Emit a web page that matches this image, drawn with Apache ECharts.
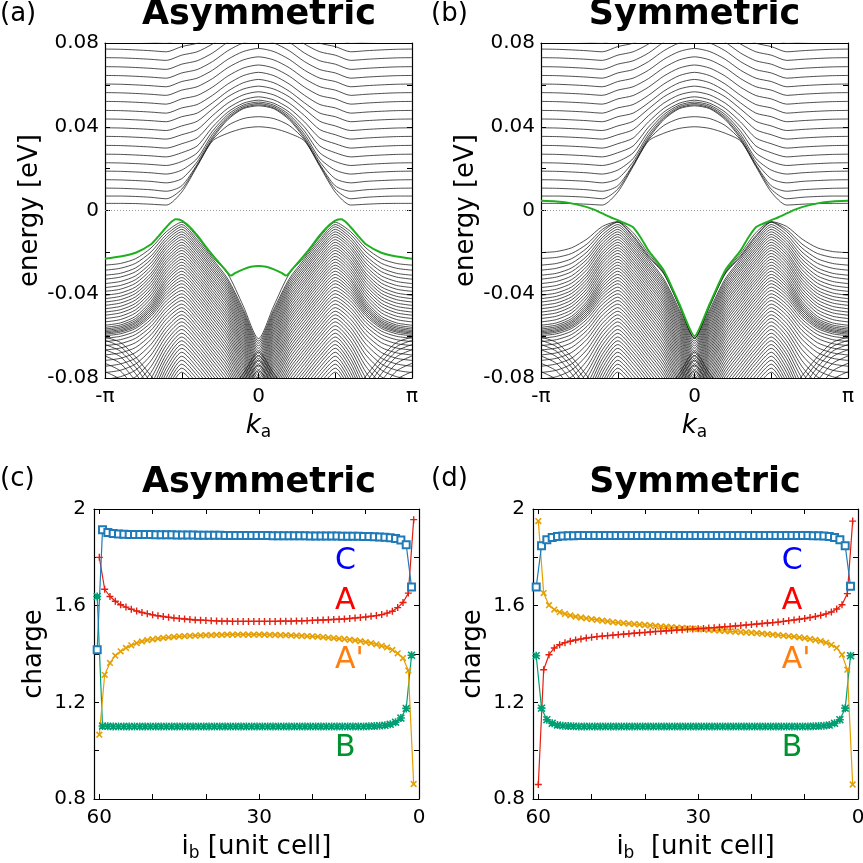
<!DOCTYPE html>
<html><head><meta charset="utf-8">
<script src="https://cdn.jsdelivr.net/npm/echarts@6/dist/echarts.min.js"></script>
<style>html,body{margin:0;padding:0;background:#fff}#chart{width:863px;height:863px}</style>
</head><body><div id="chart"></div>
<script>
// ---------- band-structure data (energies in meV, k in units of pi, k >= 0; bands are symmetric in k) ----------
const BAND_K = [0, 0.1, 0.2, 0.3, 0.4, 0.5, 0.6, 0.7, 0.8, 0.9, 1.0];

// conduction sub-bands (shared by panels a and b)
const condBands = [
  [40.0, 39.2, 36.9, 33.2, 21.0, 8.8, 2.6, 3.0, 3.3, 3.4, 3.4],
  [44.8, 43.9, 40.6, 33.7, 21.5, 10.2, 5.6, 6.3, 6.7, 6.9, 6.9],
  [50.0, 48.6, 43.4, 34.3, 22.0, 11.8, 9.2, 9.9, 10.3, 10.6, 10.7],
  [50.5, 49.0, 44.0, 35.2, 23.2, 15.2, 13.2, 13.9, 14.3, 14.6, 14.7],
  [51.1, 49.6, 44.8, 36.4, 24.8, 19.3, 17.4, 18.0, 18.4, 18.7, 18.8],
  [51.8, 50.3, 45.8, 37.9, 27.5, 23.4, 21.5, 22.0, 22.4, 22.7, 22.8],
  [52.7, 51.2, 47.0, 39.8, 30.8, 27.6, 25.6, 26.1, 26.5, 26.8, 26.9],
  [54.3, 52.8, 48.8, 42.3, 34.6, 31.9, 29.8, 30.3, 30.7, 31.0, 31.1],
  [56.7, 55.2, 51.3, 45.3, 38.6, 36.2, 34.1, 34.6, 35.0, 35.3, 35.4],
  [59.4, 58.0, 54.3, 48.5, 42.6, 40.4, 38.2, 38.7, 39.1, 39.4, 39.5],
  [62.6, 61.0, 57.0, 51.4, 46.5, 44.8, 42.4, 42.9, 43.3, 43.6, 43.7],
  [66.0, 64.4, 60.4, 55.0, 50.6, 49.0, 46.5, 47.0, 47.4, 47.7, 47.8],
  [69.5, 68.0, 64.2, 58.9, 54.9, 53.3, 50.8, 51.3, 51.7, 52.0, 52.1],
  [73.4, 71.9, 68.2, 63.0, 59.1, 57.5, 55.0, 55.5, 55.9, 56.2, 56.3],
  [77.4, 75.9, 72.2, 67.0, 63.2, 61.6, 59.1, 59.6, 60.0, 60.3, 60.4],
  [81.5, 80.0, 76.3, 71.1, 67.3, 65.7, 63.2, 63.7, 64.1, 64.4, 64.5],
  [85.5, 84.0, 80.4, 75.2, 71.5, 69.9, 67.4, 67.9, 68.3, 68.6, 68.7],
  [89.6, 88.1, 84.6, 79.5, 75.8, 74.2, 71.7, 72.2, 72.6, 72.9, 73.0],
  [93.7, 92.2, 88.7, 83.6, 79.9, 78.3, 75.8, 76.3, 76.7, 77.0, 77.1],
  [97.8, 96.3, 92.8, 87.7, 84.0, 82.4, 79.9, 80.4, 80.8, 81.1, 81.2]
];

// valence sub-bands rising to a maximum near k = pi/2 (shared by panels a and b)
const valBandsUpper = [
  [-61.2, -45.5, -30.3, -22.2, -12.7, -5.6, -10.1, -17.9, -23.0, -25.3, -26.1],
  [-62.3, -47.2, -32.7, -23.1, -13.9, -6.7, -11.5, -19.8, -25.2, -27.6, -28.5],
  [-63.4, -48.3, -33.8, -24.2, -15.0, -7.8, -12.9, -21.7, -27.4, -30.0, -30.9],
  [-64.6, -49.5, -35.0, -25.4, -16.2, -9.0, -14.2, -23.3, -29.2, -31.8, -32.8],
  [-65.8, -50.7, -36.2, -26.6, -17.4, -10.2, -15.6, -25.0, -31.2, -33.9, -34.9],
  [-67.0, -51.9, -37.4, -27.8, -18.6, -11.4, -17.0, -26.6, -33.0, -35.8, -36.8],
  [-68.2, -53.1, -38.6, -29.0, -19.8, -12.6, -18.3, -28.2, -34.7, -37.6, -38.6],
  [-69.5, -54.4, -39.9, -30.3, -21.1, -13.9, -19.8, -29.9, -36.5, -39.4, -40.5],
  [-70.8, -55.7, -41.2, -31.6, -22.4, -15.2, -21.1, -31.3, -38.1, -41.0, -42.1],
  [-72.1, -57.0, -42.5, -32.9, -23.7, -16.5, -22.5, -32.8, -39.6, -42.6, -43.7],
  [-73.4, -58.3, -43.8, -34.2, -25.0, -17.8, -23.9, -34.3, -41.2, -44.2, -45.3],
  [-74.7, -59.6, -45.1, -35.5, -26.3, -19.1, -25.2, -35.8, -42.7, -45.8, -46.9],
  [-76.1, -61.0, -46.5, -36.9, -27.7, -20.5, -26.7, -37.3, -44.3, -47.4, -48.5],
  [-77.5, -62.4, -47.9, -38.3, -29.1, -21.9, -28.1, -38.8, -45.8, -48.9, -50.0],
  [-78.9, -63.8, -49.3, -39.7, -30.5, -23.3, -29.5, -40.3, -47.4, -50.5, -51.6],
  [-80.3, -65.2, -50.7, -41.1, -31.9, -24.7, -31.0, -41.8, -48.9, -52.1, -53.2],
  [-81.7, -66.6, -52.1, -42.5, -33.3, -26.1, -32.4, -43.3, -50.5, -53.7, -54.8],
  [-83.1, -68.0, -53.5, -43.9, -34.7, -27.5, -33.7, -44.5, -51.6, -54.7, -55.8],
  [-84.6, -69.5, -55.0, -45.4, -36.2, -29.0, -35.1, -45.6, -52.5, -55.5, -56.6],
  [-86.1, -71.0, -56.5, -46.9, -37.7, -30.5, -36.4, -46.6, -53.3, -56.2, -57.3],
  [-87.6, -72.5, -58.0, -48.4, -39.2, -32.0, -37.7, -47.5, -54.0, -56.9, -57.9],
  [-89.1, -74.0, -59.5, -49.9, -40.7, -33.5, -39.0, -48.5, -54.8, -57.5, -58.5],
  [-90.6, -75.5, -61.0, -51.4, -42.2, -35.0, -40.3, -49.5, -55.5, -58.1, -59.1],
  [-92.2, -77.1, -62.6, -53.0, -43.8, -36.6, -41.7, -50.5, -56.3, -58.9, -59.8],
  [-93.8, -78.7, -64.2, -54.6, -45.4, -38.2, -43.2, -51.9, -57.6, -60.1, -61.0],
  [-95.4, -80.3, -65.8, -56.2, -47.0, -39.8, -44.8, -53.5, -59.2, -61.7, -62.6],
  [-97.0, -81.9, -67.4, -57.8, -48.6, -41.4, -46.5, -55.3, -61.0, -63.6, -64.5],
  [-98.6, -83.5, -69.0, -59.4, -50.2, -43.0, -48.2, -57.2, -63.1, -65.7, -66.6],
  [-100.3, -85.2, -70.7, -61.1, -51.9, -44.7, -50.0, -59.3, -65.4, -68.0, -69.0],
  [-102.0, -86.9, -72.4, -62.8, -53.6, -46.4, -51.9, -61.5, -67.8, -70.6, -71.6],
  [-103.7, -88.6, -74.1, -64.5, -55.3, -48.1, -53.9, -63.9, -70.5, -73.3, -74.4],
  [-105.4, -90.3, -75.8, -66.2, -57.0, -49.8, -55.9, -66.4, -73.3, -76.3, -77.4],
  [-107.1, -92.0, -77.5, -67.9, -58.7, -51.5, -57.9, -69.0, -76.2, -79.4, -80.6],
  [-108.8, -93.7, -79.2, -69.6, -60.4, -53.2, -60.0, -71.7, -79.4, -82.8, -84.0],
  [-110.6, -95.5, -81.0, -71.4, -62.2, -55.0, -62.2, -74.5, -82.6, -86.2, -87.5],
  [-112.4, -97.3, -82.8, -73.2, -64.0, -56.8, -64.3, -77.3, -85.9, -89.6, -91.0],
  [-114.2, -99.1, -84.6, -75.0, -65.8, -58.6, -66.5, -80.1, -89.1, -93.1, -94.5],
  [-116.0, -100.9, -86.4, -76.8, -67.6, -60.4, -68.7, -83.0, -92.4, -96.5, -98.0],
  [-117.8, -102.7, -88.2, -78.6, -69.4, -62.2, -70.8, -85.8, -95.6, -99.9, -101.5],
  [-119.6, -104.5, -90.0, -80.4, -71.2, -64.0, -73.0, -88.6, -98.9, -103.4, -105.0],
  [-121.4, -106.3, -91.8, -82.2, -73.0, -65.8, -75.2, -91.4, -102.1, -106.8, -108.5],
  [-123.3, -108.2, -93.7, -84.1, -74.9, -67.7, -77.4, -94.3, -105.4, -110.2, -112.0],
  [-125.2, -110.1, -95.6, -86.0, -76.8, -69.6, -79.7, -97.1, -108.6, -113.7, -115.5],
  [-127.1, -112.0, -97.5, -87.9, -78.7, -71.5, -82.0, -100.0, -111.9, -117.1, -119.0],
  [-129.0, -113.9, -99.4, -89.8, -80.6, -73.4, -84.2, -102.9, -115.1, -120.5, -122.5],
  [-130.9, -115.8, -101.3, -91.7, -82.5, -75.3, -86.5, -105.7, -118.4, -124.0, -126.0],
  [-132.8, -117.7, -103.2, -93.6, -84.4, -77.2, -88.7, -108.6, -121.7, -127.4, -129.5]
];

// deeper valence sub-bands with a local maximum at k = 0
const valBandsLower = [
  [-67.5, -78.0, -88.0, -96.0, -100.0, -100.0, -88.0, -79.0, -70.0, -63.0, -60.5],
  [-69.3, -79.8, -89.5, -97.5, -102.0, -102.0, -91.0, -82.0, -72.5, -65.0, -62.0],
  [-71.4, -81.9, -91.5, -99.5, -104.0, -104.0, -94.0, -85.0, -75.0, -67.2, -64.0],
  [-73.8, -84.3, -94.0, -102.0, -106.0, -106.0, -97.0, -88.0, -78.0, -69.8, -66.5],
  [-76.5, -87.0, -96.5, -104.0, -108.0, -108.0, -100.0, -91.5, -81.5, -73.0, -69.5],
  [-79.4, -90.0, -99.5, -107.0, -111.0, -111.0, -103.0, -95.0, -85.5, -76.6, -73.0],
  [-82.5, -93.0, -102.5, -110.0, -114.0, -114.0, -106.0, -99.0, -89.5, -80.7, -77.0],
  [-85.6, -96.0, -105.5, -113.0, -117.0, -117.0, -110.0, -103.0, -93.5, -84.6, -81.0]
];

// two extra top valence sub-bands seen only in the symmetric case (b)
const valBandsExtraSym = [
  [-60.9, -45.2, -29.6, -20.6, -10.6, -5.3, -7.6, -13.6, -17.8, -19.6, -20.1],
  [-61.1, -45.4, -30.0, -21.6, -12.0, -5.5, -9.0, -16.0, -20.5, -22.4, -22.9]
];

// highlighted (green) edge band
const greenAsymK = [0, 0.05, 0.1, 0.15, 0.18, 0.22, 0.25, 0.3, 0.35, 0.4, 0.45, 0.5, 0.54, 0.58, 0.62, 0.66, 0.7, 0.8, 0.9, 1.0];
const greenAsymE = [-26.5, -26.9, -28.1, -29.8, -31.1, -28.0, -25.5, -21.2, -16.6, -11.8, -7.7, -4.8, -4.2, -6.3, -9.6, -13.0, -16.1, -20.2, -22.0, -23.0];
const greenSymK = [0, 0.1, 0.2, 0.3, 0.35, 0.4, 0.45, 0.5, 0.55, 0.6, 0.65, 0.7, 0.8, 0.9, 1.0];
const greenSymE = [-60.0, -44.4, -28.6, -19.2, -13.0, -8.0, -6.2, -4.6, -3.1, -1.4, 0.3, 1.6, 3.4, 4.3, 4.6];

// ---------- charge data (i_b from 60 down to 1) ----------
const ibCells = [60,59,58,57,56,55,54,53,52,51,50,49,48,47,46,45,44,43,42,41,40,39,38,37,36,35,34,33,32,31,
                 30,29,28,27,26,25,24,23,22,21,20,19,18,17,16,15,14,13,12,11,10,9,8,7,6,5,4,3,2,1];

const asymC = [1.418,1.914,1.903,1.899,1.897,1.896,1.895,1.895,1.894,1.894,
               1.894,1.893,1.893,1.893,1.893,1.892,1.892,1.892,1.892,1.891,
               1.891,1.891,1.891,1.891,1.890,1.890,1.890,1.890,1.890,1.890,
               1.890,1.890,1.890,1.889,1.889,1.889,1.889,1.889,1.889,1.889,
               1.888,1.888,1.888,1.888,1.888,1.888,1.887,1.887,1.887,1.887,
               1.886,1.886,1.885,1.884,1.883,1.881,1.878,1.872,1.852,1.677];
const asymA = [1.800,1.668,1.638,1.618,1.604,1.594,1.585,1.578,1.572,1.567,
               1.562,1.558,1.555,1.552,1.549,1.547,1.545,1.543,1.541,1.540,
               1.539,1.538,1.537,1.536,1.536,1.535,1.535,1.535,1.535,1.535,
               1.535,1.535,1.535,1.535,1.536,1.536,1.536,1.537,1.537,1.538,
               1.539,1.540,1.541,1.542,1.543,1.544,1.545,1.547,1.549,1.551,
               1.553,1.556,1.559,1.563,1.569,1.577,1.592,1.613,1.652,1.956];
const asymAp = [1.066,1.314,1.363,1.393,1.411,1.425,1.436,1.445,1.452,1.457,
                1.461,1.464,1.467,1.469,1.471,1.473,1.474,1.475,1.476,1.477,
                1.478,1.478,1.479,1.479,1.480,1.480,1.480,1.480,1.480,1.480,
                1.480,1.480,1.479,1.479,1.478,1.478,1.477,1.476,1.475,1.474,
                1.473,1.472,1.470,1.468,1.466,1.464,1.462,1.459,1.456,1.453,
                1.449,1.445,1.440,1.434,1.427,1.417,1.403,1.383,1.332,0.862];
const asymB = [1.638,1.102,1.101,1.100,1.100,1.100,1.100,1.100,1.100,1.100,
               1.100,1.100,1.100,1.100,1.100,1.100,1.100,1.100,1.100,1.100,
               1.100,1.100,1.100,1.100,1.100,1.100,1.100,1.100,1.100,1.100,
               1.100,1.100,1.100,1.100,1.100,1.100,1.100,1.100,1.100,1.100,
               1.100,1.100,1.100,1.100,1.100,1.100,1.100,1.100,1.100,1.100,
               1.100,1.101,1.102,1.103,1.105,1.109,1.118,1.135,1.175,1.395];

const symC = [1.677,1.848,1.873,1.882,1.886,1.888,1.889,1.889,1.890,1.890,
              1.890,1.890,1.890,1.890,1.890,1.890,1.890,1.890,1.890,1.890,
              1.890,1.890,1.890,1.890,1.890,1.890,1.890,1.890,1.890,1.890,
              1.890,1.890,1.890,1.890,1.890,1.890,1.890,1.890,1.890,1.890,
              1.890,1.890,1.890,1.890,1.890,1.890,1.890,1.890,1.890,1.890,
              1.890,1.890,1.889,1.889,1.888,1.886,1.882,1.873,1.848,1.680];
const symA = [0.860,1.335,1.397,1.425,1.438,1.447,1.453,1.458,1.462,1.466,
              1.469,1.472,1.474,1.476,1.478,1.480,1.482,1.484,1.486,1.488,
              1.489,1.491,1.493,1.494,1.496,1.497,1.499,1.500,1.502,1.503,
              1.505,1.506,1.508,1.509,1.511,1.513,1.514,1.516,1.518,1.520,
              1.522,1.524,1.526,1.528,1.530,1.532,1.535,1.538,1.541,1.544,
              1.547,1.551,1.555,1.560,1.566,1.574,1.586,1.604,1.650,1.950];
const symAp = [1.950,1.652,1.602,1.584,1.573,1.566,1.560,1.555,1.551,1.547,
               1.544,1.541,1.538,1.535,1.532,1.530,1.528,1.526,1.524,1.522,
               1.520,1.518,1.516,1.514,1.513,1.511,1.509,1.508,1.506,1.505,
               1.503,1.502,1.500,1.499,1.497,1.496,1.494,1.493,1.491,1.489,
               1.488,1.486,1.484,1.482,1.480,1.478,1.476,1.474,1.472,1.469,
               1.466,1.462,1.458,1.453,1.447,1.438,1.425,1.397,1.335,0.860];
const symB = [1.393,1.176,1.128,1.113,1.106,1.103,1.102,1.101,1.100,1.100,
              1.100,1.100,1.100,1.100,1.100,1.100,1.100,1.100,1.100,1.100,
              1.100,1.100,1.100,1.100,1.100,1.100,1.100,1.100,1.100,1.100,
              1.100,1.100,1.100,1.100,1.100,1.100,1.100,1.100,1.100,1.100,
              1.100,1.100,1.100,1.100,1.100,1.100,1.100,1.100,1.100,1.100,
              1.100,1.100,1.101,1.102,1.103,1.106,1.113,1.128,1.176,1.393];

// sub-lattice offsets within a unit cell along i_b
const cellOffset = {A: 0, Ap: 0, B: 0.4, C: 0.4};

// ---------- chart ----------
const FONT = 'DejaVu Sans';
const chart = echarts.init(document.getElementById('chart'), null, {renderer: 'canvas'});

function mirrored(ks, vals) {
  const out = [];
  for (let j = ks.length - 1; j > 0; j--) out.push([-ks[j], vals[j]]);
  for (let j = 0; j < ks.length; j++) out.push([ks[j], vals[j]]);
  return out;
}

const grids = [
  {left: 105, top: 43, width: 307, height: 335},
  {left: 541, top: 43, width: 307, height: 335},
  {left: 94, top: 509, width: 325, height: 290},
  {left: 533, top: 509, width: 325, height: 290}
].map(g => Object.assign({outerBoundsMode: 'none', containLabel: false}, g));

const lineBlack = {show: true, onZero: false, lineStyle: {color: '#000', width: 1.2}};
const tickIn = {show: true, inside: true, length: 5, lineStyle: {color: '#000', width: 1}};
const labelBase = {color: '#000', fontFamily: FONT, fontSize: 20};

const xAxes = [], yAxes = [];
function addBandAxes(g) {
  const common = {type: 'value', gridIndex: g, min: -1, max: 1, interval: 0.5, splitLine: {show: false},
                  axisLine: lineBlack, axisTick: tickIn};
  xAxes.push(Object.assign({}, common, {
    position: 'bottom',
    axisLabel: Object.assign({}, labelBase, {margin: 9,
      formatter: v => (Math.abs(v + 1) < 1e-9 ? '-π' : Math.abs(v) < 1e-9 ? '0' : Math.abs(v - 1) < 1e-9 ? 'π' : '')}),
    name: '{k|k}{s|a}', nameLocation: 'middle', nameGap: 33,
    nameTextStyle: {rich: {
      k: {fontFamily: FONT, fontSize: 26, fontStyle: 'italic', color: '#000', lineHeight: 30},
      s: {fontFamily: FONT, fontSize: 17, color: '#000', lineHeight: 14, verticalAlign: 'bottom'}}}
  }));
  xAxes.push(Object.assign({}, common, {position: 'top', axisLabel: {show: false}}));
  const ycommon = {type: 'value', gridIndex: g, min: -80, max: 80, interval: 20, splitLine: {show: false},
                   axisLine: lineBlack, axisTick: tickIn};
  yAxes.push(Object.assign({}, ycommon, {
    position: 'left',
    axisLabel: Object.assign({}, labelBase, {margin: 6,
      formatter: v => (Math.abs(v) < 1e-9 ? '0' : (Math.abs(v % 40) < 1e-9 ? (v / 1000).toFixed(2) : ''))}),
    name: 'energy [eV]', nameLocation: 'middle', nameGap: 60, nameRotate: 90,
    nameTextStyle: {fontFamily: FONT, fontSize: 26, color: '#000'}
  }));
  yAxes.push(Object.assign({}, ycommon, {position: 'right', axisLabel: {show: false}}));
}
function addChargeAxes(g, xname) {
  const common = {type: 'value', gridIndex: g, min: 0, max: 61, interval: 10, inverse: true, splitLine: {show: false},
                  axisLine: lineBlack, axisTick: tickIn};
  xAxes.push(Object.assign({}, common, {
    position: 'bottom',
    axisLabel: Object.assign({}, labelBase, {margin: 9,
      formatter: v => (v === 60 || v === 30 || v === 0 ? String(v) : '')}),
    name: xname, nameLocation: 'middle', nameGap: 33,
    nameTextStyle: {rich: {
      t: {fontFamily: FONT, fontSize: 26, color: '#000', lineHeight: 30},
      s: {fontFamily: FONT, fontSize: 17, color: '#000', lineHeight: 14, verticalAlign: 'bottom'}}}
  }));
  xAxes.push(Object.assign({}, common, {position: 'top', axisLabel: {show: false}}));
  const ycommon = {type: 'value', gridIndex: g, min: 0.8, max: 2.0, interval: 0.2, splitLine: {show: false},
                   axisLine: lineBlack, axisTick: tickIn};
  yAxes.push(Object.assign({}, ycommon, {
    position: 'left',
    axisLabel: Object.assign({}, labelBase, {margin: 8,
      formatter: v => {
        const r = (v - 0.8) / 0.4;
        if (Math.abs(r - Math.round(r)) > 1e-6) return '';
        return Math.abs(v - 2) < 1e-6 ? '2' : v.toFixed(1);
      }}),
    name: 'charge', nameLocation: 'middle', nameGap: 47, nameRotate: 90,
    nameTextStyle: {fontFamily: FONT, fontSize: 26, color: '#000'}
  }));
  yAxes.push(Object.assign({}, ycommon, {position: 'right', axisLabel: {show: false}}));
}
addBandAxes(0); addBandAxes(1);
addChargeAxes(2, '{t|i}{s|b}{t| [unit cell]}');
addChargeAxes(3, '{t|i}{s|b}{t|  [unit cell]}');

const series = [];
function bandSeries(g, vals) {
  return {type: 'line', xAxisIndex: 2 * g, yAxisIndex: 2 * g, data: mirrored(BAND_K, vals),
          symbol: 'none', smooth: 0.25, silent: true, animation: false, clip: true,
          lineStyle: {color: '#151515', width: 0.75}, z: 2};
}
function greenSeries(g, ks, es) {
  return {type: 'line', xAxisIndex: 2 * g, yAxisIndex: 2 * g, data: mirrored(ks, es),
          symbol: 'none', smooth: 0.2, silent: true, animation: false, clip: true,
          lineStyle: {color: '#1fb01f', width: 2}, z: 5,
          markLine: {silent: true, animation: false, symbol: ['none', 'none'], label: {show: false},
                     lineStyle: {color: '#9a9a9a', type: [1, 2], width: 1}, data: [{yAxis: 0}]}};
}
[0, 1].forEach(g => {
  condBands.forEach(b => series.push(bandSeries(g, b)));
  valBandsUpper.forEach(b => series.push(bandSeries(g, b)));
  valBandsLower.forEach(b => series.push(bandSeries(g, b)));
});
valBandsExtraSym.forEach(b => series.push(bandSeries(1, b)));
series.push(greenSeries(0, greenAsymK, greenAsymE));
series.push(greenSeries(1, greenSymK, greenSymE));

const PLUS = 'path://M4,0H6V4H10V6H6V10H4V6H0V4H4Z';
const STAR = 'path://M4,0H6V4H10V6H6V10H4V6H0V4H4Z M1.4,0L5,3.6L8.6,0L10,1.4L6.4,5L10,8.6L8.6,10L5,6.4L1.4,10L0,8.6L3.6,5L0,1.4Z';
const COL = {C: '#1f7ab8', A: '#e51e10', Ap: '#e69f00', B: '#009e73'};
function chargeSeries(g, vals, key, symbol, size, rot) {
  return {type: 'line', xAxisIndex: 2 * g, yAxisIndex: 2 * g,
          data: ibCells.map((c, j) => [c + cellOffset[key], vals[j]]),
          symbol: symbol, symbolSize: size, symbolRotate: rot || 0, showAllSymbol: true,
          silent: true, animation: false,
          lineStyle: {color: COL[key], width: 1.2},
          itemStyle: {color: COL[key], borderColor: COL[key], borderWidth: symbol === 'emptyRect' ? 1.3 : 0}, z: 3};
}
[[2, asymC, asymA, asymAp, asymB], [3, symC, symA, symAp, symB]].forEach(([g, c, a, ap, b]) => {
  series.push(chargeSeries(g, b, 'B', STAR, 8));
  series.push(chargeSeries(g, ap, 'Ap', PLUS, 8, 45));
  series.push(chargeSeries(g, a, 'A', PLUS, 7));
  series.push(chargeSeries(g, c, 'C', 'emptyRect', 7));
});

function txt(x, y, text, size, opts) {
  return {type: 'text', x: x, y: y, silent: true,
          style: Object.assign({text: text, fontFamily: FONT, fontSize: size, fill: '#000',
                                align: 'left', verticalAlign: 'middle'}, opts || {})};
}
const graphic = [
  txt(0, 14.5, '(a)', 26), txt(431, 14.5, '(b)', 26), txt(0, 479, '(c)', 26), txt(431, 479, '(d)', 26),
  txt(259, 14.8, 'Asymmetric', 35, {fontWeight: 'bold', align: 'center'}),
  txt(694.5, 14.8, 'Symmetric', 35, {fontWeight: 'bold', align: 'center'}),
  txt(259, 483.4, 'Asymmetric', 35, {fontWeight: 'bold', align: 'center'}),
  txt(695, 483.4, 'Symmetric', 35, {fontWeight: 'bold', align: 'center'}),
  txt(335, 561.5, 'C', 30, {fill: '#0000ff'}), txt(335, 601.7, 'A', 30, {fill: '#ff0000'}),
  txt(335, 660.5, "A'", 30, {fill: '#ff7f0e'}), txt(335, 748, 'B', 30, {fill: '#00922e'}),
  txt(781.7, 561.5, 'C', 30, {fill: '#0000ff'}), txt(781.7, 601.7, 'A', 30, {fill: '#ff0000'}),
  txt(781.7, 660.5, "A'", 30, {fill: '#ff7f0e'}), txt(781.7, 748, 'B', 30, {fill: '#00922e'})
];

chart.setOption({
  animation: false,
  backgroundColor: '#fff',
  grid: grids,
  xAxis: xAxes,
  yAxis: yAxes,
  series: series,
  graphic: graphic
});
</script></body></html>
